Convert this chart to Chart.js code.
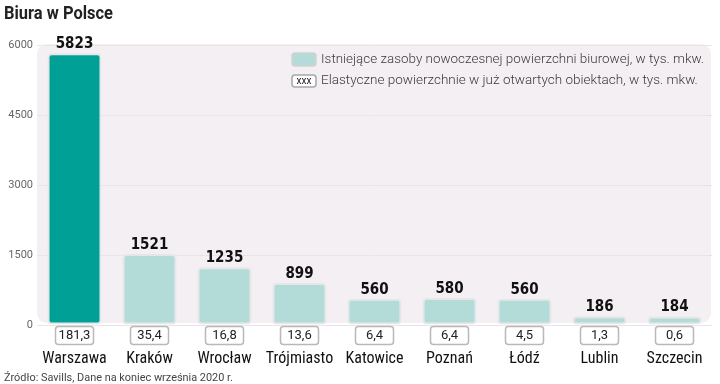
<!DOCTYPE html>
<html lang="pl">
<head>
<meta charset="UTF-8">
<title>Biura w Polsce</title>
<script src="https://cdn.jsdelivr.net/npm/chart.js"></script>
<style>
  html, body { margin: 0; padding: 0; background: #fff; }
</style>
</head>
<body>
<canvas id="wykres" width="720" height="384"></canvas>
<script>
const miasta = ['Warszawa', 'Kraków', 'Wrocław', 'Trójmiasto', 'Katowice', 'Poznań', 'Łódź', 'Lublin', 'Szczecin'];
const zasoby = [5823, 1521, 1235, 899, 560, 580, 560, 186, 184];
const elastyczne = ['181,3', '35,4', '16,8', '13,6', '6,4', '6,4', '4,5', '1,3', '0,6'];
const osY = [0, 1500, 3000, 4500, 6000];

const legenda1 = 'Istniejące zasoby nowoczesnej powierzchni biurowej, w tys. mkw.';
const legenda2 = 'Elastyczne powierzchnie w już otwartych obiektach, w tys. mkw.';
const tytul = 'Biura w Polsce';
const zrodlo = 'Źródło: Savills, Dane na koniec września 2020 r.';

const NARROW = '"Liberation Sans Narrow", "Roboto Condensed", "DejaVu Sans Condensed", sans-serif';

function zaokraglony(ctx, x, y, w, h, r) {
  ctx.beginPath();
  ctx.roundRect(x, y, w, h, r);
}

const dodatki = {
  id: 'dodatki',
  beforeDraw(chart) {
    const { ctx, chartArea: a } = chart;
    ctx.save();
    ctx.fillStyle = '#f3eff3';
    zaokraglony(ctx, a.left, a.top - 1, a.right - a.left - 1, a.bottom - a.top - 1, 10);
    ctx.fill();
    ctx.restore();
  },
  afterDatasetsDraw(chart) {
    const { ctx } = chart;
    const x = chart.scales.x, y = chart.scales.y;
    const dol = chart.chartArea.bottom;
    ctx.save();

    // wartosci nad slupkami
    ctx.fillStyle = '#111';
    ctx.font = 'bold 15px "DejaVu Sans Condensed", sans-serif';
    ctx.textAlign = 'center';
    ctx.textBaseline = 'alphabetic';
    zasoby.forEach((v, i) => {
      ctx.fillText(String(v), x.getPixelForValue(i), y.getPixelForValue(v) - 5);
    });

    // ramki z powierzchnia elastyczna
    elastyczne.forEach((t, i) => {
      const cx = x.getPixelForValue(i);
      ctx.fillStyle = '#fff';
      ctx.strokeStyle = '#b9b9b9';
      ctx.lineWidth = 1.5;
      zaokraglony(ctx, cx - 19, dol + 1.5, 38, 18, 3);
      ctx.fill();
      ctx.stroke();
      ctx.fillStyle = '#222';
      ctx.font = '13px Roboto, sans-serif';
      ctx.textBaseline = 'middle';
      ctx.fillText(t, cx, dol + 11, 32);
    });

    // legenda
    ctx.textAlign = 'left';
    ctx.fillStyle = '#b3dcd9';
    ctx.strokeStyle = '#d2d2d2';
    ctx.lineWidth = 1.5;
    zaokraglony(ctx, 292, 53, 24, 13, 3);
    ctx.fill();
    ctx.stroke();
    ctx.fillStyle = '#fff';
    ctx.strokeStyle = '#a8a8a8';
    zaokraglony(ctx, 292, 75, 24, 12, 3);
    ctx.fill();
    ctx.stroke();
    ctx.fillStyle = '#222';
    ctx.font = '10px Roboto, sans-serif';
    ctx.textAlign = 'center';
    ctx.fillText('xxx', 304, 81.5);
    ctx.textAlign = 'left';
    ctx.fillStyle = '#3a3a3a';
    ctx.font = '300 13.5px Roboto, sans-serif';
    ctx.fillText(legenda1, 321, 60, 383);
    ctx.fillText(legenda2, 321, 81, 383);

    // tytul i zrodlo
    ctx.textBaseline = 'alphabetic';
    ctx.fillStyle = '#222';
    ctx.font = 'bold 18px Roboto, sans-serif';
    ctx.fillText(tytul, 4, 19, 109);
    ctx.fillStyle = '#444';
    ctx.font = '11px Roboto, sans-serif';
    ctx.fillText(zrodlo, 4, 381, 229);
    ctx.restore();
  }
};

new Chart(document.getElementById('wykres'), {
  type: 'bar',
  data: {
    labels: miasta,
    datasets: [{
      data: zasoby,
      backgroundColor: zasoby.map((v, i) => i === 0 ? '#00a096' : '#b3dcd9'),
      borderColor: '#e6e6e8',
      borderWidth: 2,
      borderRadius: 4,
      borderSkipped: false,
      barPercentage: 0.72,
      categoryPercentage: 1
    }]
  },
  options: {
    responsive: false,
    animation: false,
    devicePixelRatio: 1,
    layout: { padding: { top: 45, right: 8, bottom: 0, left: 0 } },
    plugins: {
      legend: { display: false },
      tooltip: { enabled: false }
    },
    scales: {
      x: {
        grid: { display: false },
        border: { display: false },
        ticks: {
          color: '#111',
          font: { family: NARROW, size: 16 },
          padding: 16,
          maxRotation: 0,
          autoSkip: false
        },
        afterFit(s) { s.height = 59; }
      },
      y: {
        min: 0,
        max: 6000,
        afterBuildTicks(s) { s.ticks = osY.map(v => ({ value: v })); },
        grid: { color: '#e9e4e9', drawTicks: false },
        border: { display: false },
        ticks: {
          color: '#666',
          font: { family: 'Roboto, sans-serif', size: 11 },
          padding: 4,
          callback: v => String(v)
        },
        afterFit(s) { s.width = 37; }
      }
    }
  },
  plugins: [dodatki]
});
</script>
</body>
</html>
